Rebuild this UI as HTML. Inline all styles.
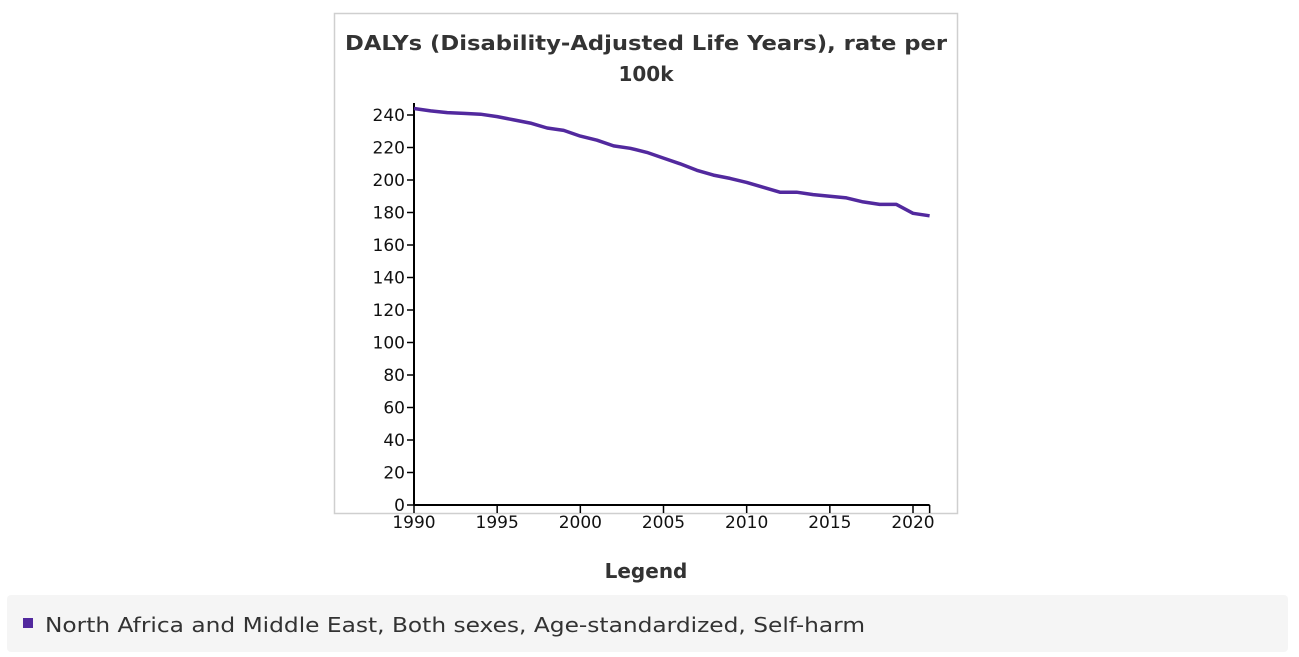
<!DOCTYPE html>
<html><head><meta charset="utf-8"><style>
html,body{margin:0;padding:0;background:#fff;width:1299px;height:657px;overflow:hidden}
svg{display:block;font-family:"DejaVu Sans","Liberation Sans",sans-serif}
</style></head><body>
<svg id="chart" width="1299" height="657" viewBox="0 0 1299 657">
<rect x="334.5" y="13.5" width="623" height="500" fill="#fff" stroke="#cfcfcf" stroke-width="1.5"/>
<text x="646" y="50" text-anchor="middle" font-size="20" font-weight="bold" fill="#333" textLength="602" lengthAdjust="spacingAndGlyphs">DALYs (Disability-Adjusted Life Years), rate per</text>
<text x="646" y="81" text-anchor="middle" font-size="20" font-weight="bold" fill="#333">100k</text>
<g id="axes"></g>
<path id="series" fill="none" stroke="#52299e" stroke-width="3.5" stroke-linejoin="round"/>
<text x="646" y="578" text-anchor="middle" font-size="20" font-weight="bold" fill="#333">Legend</text>
<rect x="7" y="595" width="1281" height="57" rx="4" fill="#f5f5f5"/>
<rect x="23" y="618" width="10" height="10" fill="#52299e"/>
<text x="45" y="632" font-size="20" fill="#333" textLength="820" lengthAdjust="spacingAndGlyphs">North Africa and Middle East, Both sexes, Age-standardized, Self-harm</text>
</svg>
<script>
const years=[1990,1991,1992,1993,1994,1995,1996,1997,1998,1999,2000,2001,2002,2003,2004,2005,2006,2007,2008,2009,2010,2011,2012,2013,2014,2015,2016,2017,2018,2019,2020,2021];
const values=[244,242.5,241.5,241,240.5,239,237,235,232,230.5,227,224.5,221,219.5,217,213.5,210,206,203,201,198.5,195.5,192.5,192.5,191,190,189,186.5,185,185,179.5,178];
const yTicks=[0,20,40,60,80,100,120,140,160,180,200,220,240];
const xTicks=[1990,1995,2000,2005,2010,2015,2020];
const NS='http://www.w3.org/2000/svg';
const X0=414,X1=913,Y0=505,Y240=115;
function xs(v){return X0+(v-1990)*(X1-X0)/30;}
function ys(v){return Y0-v*(Y0-Y240)/240;}
const g=document.getElementById('axes');
function mk(t,a){const e=document.createElementNS(NS,t);for(const k in a)e.setAttribute(k,a[k]);g.appendChild(e);return e;}
let e=mk('line',{x1:X0,x2:X0,y1:103,y2:Y0,stroke:'#000','stroke-width':2});


e=mk('line',{x1:X0,x2:xs(2021),y1:Y0,y2:Y0,stroke:'#000','stroke-width':2});


yTicks.forEach(v=>{
  const t=mk('line',{x1:X0-7,x2:X0,y1:ys(v),y2:ys(v),stroke:'#000','stroke-width':1.5});
  
  
  const l=mk('text',{x:X0-9,y:ys(v)+6,'text-anchor':'end','font-size':17,fill:'#111'});
  l.textContent=v;
  
  
});
xTicks.concat([2021]).forEach(v=>{
  const t=mk('line',{x1:xs(v),x2:xs(v),y1:Y0,y2:Y0+8,stroke:'#000','stroke-width':1.5});
  
  
});
xTicks.forEach(v=>{
  const l=mk('text',{x:xs(v),y:Y0+23,'text-anchor':'middle','font-size':17,fill:'#111'});
  l.textContent=v;
  
  
});
document.getElementById('series').setAttribute('d',years.map((yr,i)=>(i?'L':'M')+xs(yr).toFixed(1)+','+ys(values[i]).toFixed(1)).join(''));
</script>
</body></html>
